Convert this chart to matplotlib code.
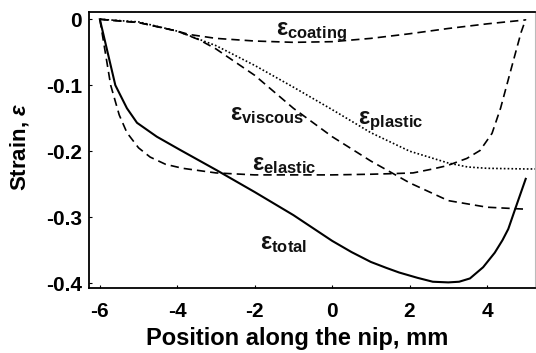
import matplotlib
matplotlib.use("Agg")
import matplotlib.pyplot as plt

plt.rcParams['font.family'] = ['Liberation Sans', 'DejaVu Sans']
plt.rcParams['font.weight'] = 'bold'
plt.rcParams['mathtext.fontset'] = 'custom'
plt.rcParams['mathtext.rm'] = 'Liberation Sans:bold'
plt.rcParams['mathtext.bf'] = 'Liberation Sans:bold'
plt.rcParams['mathtext.it'] = 'Liberation Sans:italic'

# strain components along the nip (position in mm)
x_total = [-6.0, -5.8, -5.6, -5.3, -5.04, -4.53, -3.93, -2.98, -2.0, -1.0, 0.0,
           0.5, 1.0, 1.4, 1.73, 2.2, 2.6, 3.0, 3.28, 3.56, 3.9, 4.2, 4.4, 4.55, 4.75, 5.0]
y_total = [0.0, -0.05, -0.10, -0.135, -0.157, -0.178, -0.198, -0.229, -0.262, -0.297, -0.336,
           -0.353, -0.368, -0.377, -0.384, -0.392, -0.398, -0.399, -0.398, -0.393, -0.376, -0.354, -0.335, -0.318, -0.284, -0.242]

x_elastic = [-6.0, -5.86, -5.72, -5.5, -5.3, -5.0, -4.7, -4.3, -3.86, -3.0, -2.0, -1.0, 0.0,
             1.0, 1.6, 2.09, 2.6, 2.97, 3.48, 3.82, 4.13, 4.35, 4.57, 4.75, 4.88, 5.0]
y_elastic = [0.0, -0.05, -0.10, -0.145, -0.172, -0.195, -0.209, -0.220, -0.226, -0.233, -0.236, -0.236, -0.236,
             -0.235, -0.234, -0.233, -0.227, -0.222, -0.211, -0.199, -0.173, -0.135, -0.087, -0.048, -0.020, 0.0]

x_viscous = [-6.0, -5.0, -4.0, -3.44, -3.0, -2.0, -1.0, 0.0, 1.0, 2.0, 3.0, 4.0, 5.0]
y_viscous = [0.0, -0.005, -0.018, -0.031, -0.045, -0.085, -0.135, -0.178, -0.215, -0.248, -0.275, -0.285, -0.288]

x_plastic = [-6.0, -5.0, -4.0, -3.0, -2.0, -1.0, 0.0, 1.0, 2.0, 3.0, 3.5, 4.0, 5.0, 5.25]
y_plastic = [0.0, -0.004, -0.018, -0.040, -0.070, -0.103, -0.137, -0.172, -0.200, -0.218, -0.224, -0.226, -0.227, -0.227]

x_coating = [-6.0, -5.0, -4.0, -3.7, -3.0, -2.0, -1.0, 0.0, 1.0, 2.0, 3.0, 4.0, 5.0]
y_coating = [0.0, -0.005, -0.018, -0.023, -0.029, -0.033, -0.035, -0.034, -0.029, -0.022, -0.014, -0.007, -0.001]

x_ticks = [-6, -4, -2, 0, 2, 4]
y_ticks = [0, -0.1, -0.2, -0.3, -0.4]
y_ticklabels = ['0', '-0.1', '-0.2', '-0.3', '-0.4']

fig = plt.figure(figsize=(5.36, 3.53), dpi=100)
ax = fig.add_axes([89 / 536, 65 / 353, 446 / 536, 276 / 353])

dash = (0, (5, 3))
ax.plot(x_total, y_total, color='black', lw=1.5)
ax.plot(x_elastic, y_elastic, color='black', lw=1.2, ls=dash)
ax.plot(x_viscous, y_viscous, color='black', lw=1.2, ls=dash)
ax.plot(x_plastic, y_plastic, color='black', lw=1.2, ls=(0, (1, 1.3)))
ax.plot(x_coating, y_coating, color='black', lw=1.2, ls=dash)

# curve labels
lbl = dict(fontsize=17, ha='left', va='baseline', color='#111111')
ax.text(-1.45, -0.0236, r'$\mathbf{\varepsilon}_{\mathbf{coating}}$', **lbl)
ax.text(-2.64, -0.153, r'$\mathbf{\varepsilon}_{\mathbf{viscous}}$', **lbl)
ax.text(0.67, -0.159, r'$\mathbf{\varepsilon}_{\mathbf{plastic}}$', **lbl)
ax.text(-2.07, -0.229, r'$\mathbf{\varepsilon}_{\mathbf{elastic}}$', **lbl)
ax.text(-1.87, -0.348, r'$\mathbf{\varepsilon}_{\mathbf{total}}$', **lbl)

ax.set_xlim(-6.28, 5.24)
ax.set_ylim(-0.4075, 0.011)
ax.set_xticks(x_ticks)
ax.set_xticklabels([str(t) for t in x_ticks])
ax.set_yticks(y_ticks)
ax.set_yticklabels(y_ticklabels)
ax.tick_params(direction='in', length=2.5, width=0.8, labelsize=15)
ax.tick_params(axis='x', pad=10)
ax.tick_params(axis='y', pad=5)

ax.set_xlabel('Position along the nip, mm', fontsize=17, fontweight='bold')
ax.xaxis.set_label_coords(0.466, -0.143)
ax.set_ylabel(r'Strain, $\varepsilon$', fontsize=16, fontweight='bold')
ax.yaxis.set_label_coords(-0.13, 0.511)

for side in ['left', 'bottom', 'top']:
    ax.spines[side].set_linewidth(1.3)
ax.spines['right'].set_color('#bbbbbb')
ax.spines['right'].set_linewidth(0.8)

fig.savefig('out.png', dpi=100)
